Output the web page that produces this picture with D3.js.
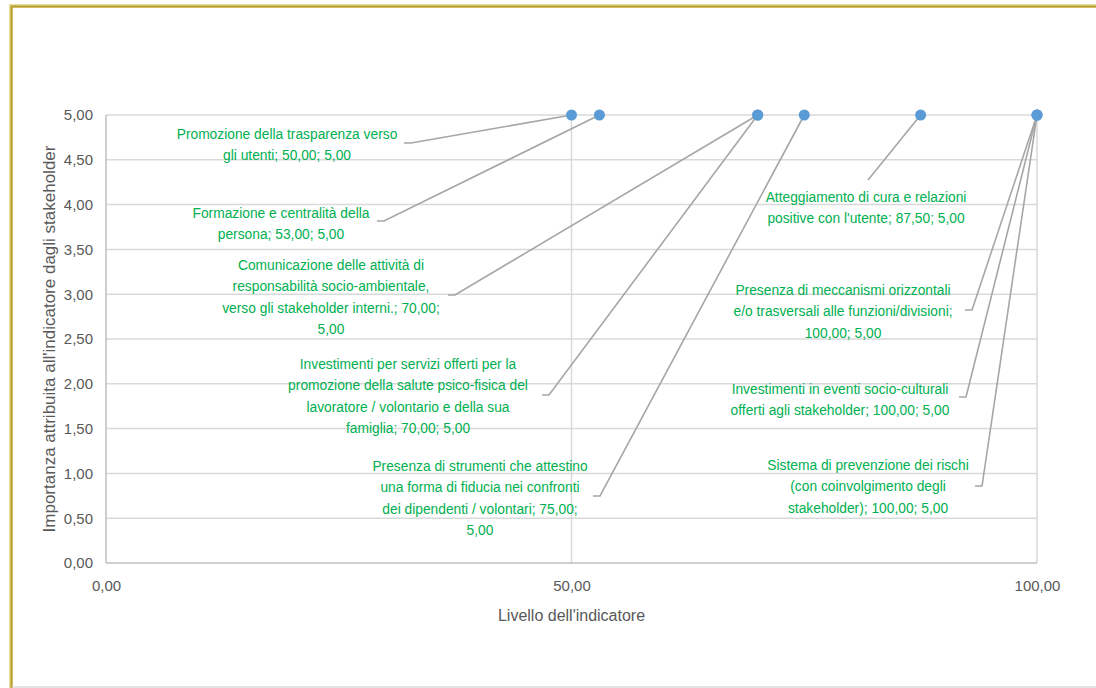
<!DOCTYPE html>
<html>
<head>
<meta charset="utf-8">
<script src="https://d3js.org/d3.v7.min.js"></script>
<style>
  html, body { margin: 0; padding: 0; background: #fff; }
  svg { display: block; }
  .lbl { font-family: "Liberation Sans Narrow", "Arial Narrow", "Liberation Sans", sans-serif; }
</style>
</head>
<body>
<svg id="chart" width="1096" height="688"></svg>
<script>
// Indicators: name, level (x) and stakeholder importance (y)
const names = [
  "Promozione della trasparenza verso gli utenti",
  "Formazione e centralità della persona",
  "Comunicazione delle attività di responsabilità socio-ambientale, verso gli stakeholder interni.",
  "Investimenti per servizi offerti per la promozione della salute psico-fisica del lavoratore / volontario e della sua famiglia",
  "Presenza di strumenti che attestino una forma di fiducia nei confronti dei dipendenti / volontari",
  "Atteggiamento di cura e relazioni positive con l'utente",
  "Presenza di meccanismi orizzontali e/o trasversali alle funzioni/divisioni",
  "Investimenti in eventi socio-culturali offerti agli stakeholder",
  "Sistema di prevenzione dei rischi (con coinvolgimento degli stakeholder)"
];
const levels = [50, 53, 70, 70, 75, 87.5, 100, 100, 100];
const importance = [5, 5, 5, 5, 5, 5, 5, 5, 5];

const xTicks = [0, 50, 100];
const yTicks = [0, 0.5, 1, 1.5, 2, 2.5, 3, 3.5, 4, 4.5, 5];
const xTitle = "Livello dell'indicatore";
const yTitle = "Importanza attribuita all'indicatore dagli stakeholder";

// Label line breaks (text wraps as in the label boxes)
const labelBreaks = [
  ["Promozione della trasparenza verso", "gli utenti;"],
  ["Formazione e centralità della", "persona;"],
  ["Comunicazione delle attività di", "responsabilità socio-ambientale,", "verso gli stakeholder interni.;"],
  ["Investimenti per servizi offerti per la", "promozione della salute psico-fisica del", "lavoratore / volontario e della sua", "famiglia;"],
  ["Presenza di strumenti che attestino", "una forma di fiducia nei confronti", "dei dipendenti / volontari;"],
  ["Atteggiamento di cura e relazioni", "positive con l'utente;"],
  ["Presenza di meccanismi orizzontali", "e/o trasversali alle funzioni/divisioni;", "100,00; 5,00"],
  ["Investimenti in eventi socio-culturali", "offerti agli stakeholder;"],
  ["Sistema di prevenzione dei rischi", "(con coinvolgimento degli", "stakeholder);"]
];

// Label box layout: centre x, first baseline, leader attach point, stub length
const labelLayout = [
  { cx: 287, y: 139, ax: 404, ay: 143, stub: 7 },
  { cx: 281, y: 218, ax: 377, ay: 221, stub: 7 },
  { cx: 331, y: 270, ax: 448, ay: 295, stub: 7 },
  { cx: 408, y: 369, ax: 542, ay: 395, stub: 7 },
  { cx: 480, y: 471, ax: 593, ay: 496, stub: 7 },
  { cx: 866, y: 202, ax: 868, ay: 180, stub: 0 },
  { cx: 843, y: 295, ax: 965, ay: 310, stub: 7 },
  { cx: 840, y: 394, ax: 959, ay: 397, stub: 7 },
  { cx: 868, y: 470, ax: 975, ay: 486, stub: 7 }
];

const fmt = v => v.toFixed(2).replace(".", ",");

const svg = d3.select("#chart");
const W = 1096, H = 688;

// outer frame
svg.append("path")
  .attr("d", `M11,${H} V6 H${W}`)
  .attr("fill", "none").attr("stroke", "#e6dca0").attr("stroke-width", 4);
svg.append("path")
  .attr("d", `M11.5,${H} V6.5 H${W}`)
  .attr("fill", "none").attr("stroke", "#b5a12a").attr("stroke-width", 2);
svg.append("line")
  .attr("x1", 12).attr("x2", W).attr("y1", 687).attr("y2", 687)
  .attr("stroke", "#d9d9d9").attr("stroke-width", 1.5);

const x = d3.scaleLinear().domain([0, 100]).range([106, 1037]);
const y = d3.scaleLinear().domain([0, 5]).range([563, 115]);

// horizontal gridlines
svg.append("g")
  .selectAll("line").data(yTicks.filter(t => t > 0)).join("line")
  .attr("x1", x(0)).attr("x2", x(100))
  .attr("y1", d => y(d)).attr("y2", d => y(d))
  .attr("stroke", "#d9d9d9").attr("stroke-width", 1.5);

// vertical gridlines
svg.append("g")
  .selectAll("line").data(xTicks.filter(t => t > 0)).join("line")
  .attr("x1", d => x(d)).attr("x2", d => x(d))
  .attr("y1", y(0)).attr("y2", y(5))
  .attr("stroke", "#d9d9d9").attr("stroke-width", 1.5);

// axis lines
svg.append("line")
  .attr("x1", x(0)).attr("x2", x(0)).attr("y1", y(0)).attr("y2", y(5))
  .attr("stroke", "#bfbfbf").attr("stroke-width", 1.5);
svg.append("line")
  .attr("x1", x(0)).attr("x2", x(100)).attr("y1", y(0)).attr("y2", y(0))
  .attr("stroke", "#bfbfbf").attr("stroke-width", 1.5);

// tick labels via d3 axes
const yAxis = d3.axisLeft(y).tickValues(yTicks).tickFormat(fmt).tickSize(0).tickPadding(13);
const gy = svg.append("g").attr("transform", `translate(${x(0)},0)`).call(yAxis);
gy.select(".domain").remove();
gy.selectAll("text").attr("class", "lbl").attr("font-size", 15).attr("fill", "#595959");

const xAxis = d3.axisBottom(x).tickValues(xTicks).tickFormat(fmt).tickSize(0).tickPadding(17);
const gx = svg.append("g").attr("transform", `translate(0,${y(0)})`).call(xAxis);
gx.select(".domain").remove();
gx.selectAll("text").attr("class", "lbl").attr("font-size", 15).attr("fill", "#595959");

// axis titles
svg.append("text").attr("class", "lbl")
  .attr("x", x(50)).attr("y", 621)
  .attr("text-anchor", "middle").attr("font-size", 16).attr("fill", "#595959")
  .text(xTitle);
svg.append("text").attr("class", "lbl")
  .attr("transform", `translate(55,339) rotate(-90)`)
  .attr("text-anchor", "middle").attr("font-size", 17).attr("fill", "#595959")
  .text(yTitle);

// leader lines
const leaders = svg.append("g");
names.forEach((n, i) => {
  const L = labelLayout[i];
  const px = x(levels[i]), py = y(importance[i]);
  const pts = L.stub ? [[L.ax, L.ay], [L.ax + L.stub, L.ay], [px, py]] : [[L.ax, L.ay], [px, py]];
  leaders.append("path")
    .attr("d", d3.line()(pts))
    .attr("fill", "none").attr("stroke", "#a6a6a6").attr("stroke-width", 1.6);
});

// points
svg.append("g")
  .selectAll("circle").data(levels).join("circle")
  .attr("cx", d => x(d)).attr("cy", (d, i) => y(importance[i]))
  .attr("r", 5.5).attr("fill", "#5b9bd5");

// data labels: name; level; importance (set in a condensed width)
const lblG = svg.append("g");
names.forEach((n, i) => {
  const L = labelLayout[i];
  const lines = labelBreaks[i].slice();
  const tail = fmt(levels[i]) + "; " + fmt(importance[i]);
  const last = lines[lines.length - 1];
  if (last.endsWith(";")) {
    if (i === 2 || i === 4) {
      lines[lines.length - 1] = last + " " + fmt(levels[i]) + ";";
      lines.push(fmt(importance[i]));
    } else {
      lines[lines.length - 1] = last + " " + tail;
    }
  }
  const t = lblG.append("text").attr("class", "lbl")
    .attr("transform", `translate(${L.cx},0) scale(0.89,1)`)
    .attr("text-anchor", "middle").attr("font-size", 15.5).attr("fill", "#00b050");
  lines.forEach((s, k) => {
    t.append("tspan").attr("x", 0).attr("y", L.y + k * 21.5).text(s);
  });
});
</script>
</body>
</html>
